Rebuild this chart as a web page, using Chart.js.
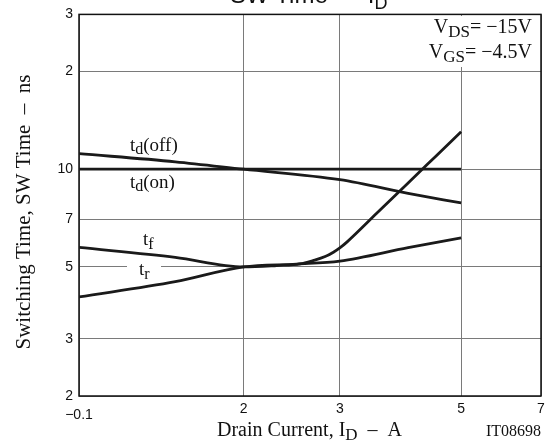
<!DOCTYPE html>
<html>
<head>
<meta charset="utf-8">
<title>SW Time - ID</title>
<script src="https://cdn.jsdelivr.net/npm/chart.js@4.4.0/dist/chart.umd.min.js"></script>
<style>
  html, body { margin: 0; padding: 0; background: #fff; }
  #wrap { width: 545px; height: 447px; position: relative; }
</style>
</head>
<body>
<div id="wrap"><canvas id="swChart"></canvas></div>

<script>
// axis ticks
var xTicks = [1, 2, 3, 5, 7];
var xTickLabels = ['\u22120.1', '2', '3', '5', '7'];
var yTicks = [2, 3, 5, 7, 10, 20, 30];
var yTickLabels = ['2', '3', '5', '7', '10', '2', '3'];

// curves (ID in A, time in ns)
var tdOffX = [1, 1.5, 2, 3, 4, 5];
var tdOffY = [11.17, 10.54, 10, 9.28, 8.43, 7.87];

var tdOnX = [1, 5];
var tdOnY = [10, 10];

var tfX = [1, 1.5, 2, 2.3, 2.54, 2.68, 2.82, 2.92, 3, 3.09, 3.5, 4, 4.5, 5];
var tfY = [5.74, 5.35, 5, 5.05, 5.11, 5.23, 5.38, 5.55, 5.72, 5.96, 7.3, 9.07, 10.99, 13.05];

var trX = [1, 1.5, 2, 2.5, 3, 4, 5];
var trY = [4.04, 4.5, 5, 5.1, 5.21, 5.73, 6.14];

var SERIF = '"Liberation Serif", "DejaVu Serif", serif';
var SANS = '"Liberation Sans", Arial, sans-serif';

function pts(xs, ys) {
  return xs.map(function (x, i) { return {x: x, y: ys[i]}; });
}

function curve(xs, ys) {
  return {
    data: pts(xs, ys),
    showLine: true,
    borderColor: '#1a1a1a',
    borderWidth: 2.8,
    pointRadius: 0,
    cubicInterpolationMode: 'monotone',
    fill: false
  };
}

// draws text made of pieces: [text, size, drop, family]
function drawParts(ctx, parts, x, y, align) {
  var total = 0;
  parts.forEach(function (p) {
    ctx.font = p[1] + 'px ' + (p[3] || SERIF);
    total += ctx.measureText(p[0]).width;
  });
  var cx = align === 'right' ? x - total : x;
  ctx.textAlign = 'left';
  ctx.textBaseline = 'alphabetic';
  parts.forEach(function (p) {
    ctx.font = p[1] + 'px ' + (p[3] || SERIF);
    ctx.fillText(p[0], cx, y + p[2]);
    cx += ctx.measureText(p[0]).width;
  });
}

var boxPlugin = {
  id: 'boxPlugin',
  beforeDatasetsDraw: function (chart) {
    var ctx = chart.ctx, a = chart.chartArea;
    ctx.save();
    // white patches behind labels that cut the grid
    ctx.fillStyle = '#fff';
    ctx.fillRect(127, 259, 34, 19);
    ctx.fillRect(424, 16, 113, 51);
    // frame
    ctx.strokeStyle = '#111';
    ctx.lineWidth = 1.5;
    ctx.strokeRect(a.left, a.top, a.right - a.left, a.bottom - a.top);
    ctx.restore();
  },
  afterDraw: function (chart) {
    var ctx = chart.ctx;
    var xs = chart.scales.x;
    ctx.save();
    ctx.fillStyle = '#111';

    // x tick labels
    ctx.font = '14px ' + SANS;
    ctx.textAlign = 'center';
    ctx.textBaseline = 'middle';
    xTicks.forEach(function (v, i) {
      var off = i === 0 ? 415 : 409;
      ctx.fillText(xTickLabels[i], xs.getPixelForValue(v), off);
    });

    // title, mostly cut off at the top
    drawParts(ctx, [['SW Time', 24, 0, SANS], ['  \u2013  ', 24, 0, SANS], ['I', 24, 0, SANS], ['D', 18, 6, SANS]], 230, 3);

    // axis titles
    drawParts(ctx, [['Drain Current, I', 20, 0], ['D', 17, 4], ['  \u2013  A', 20, 0]], 217, 436);
    ctx.font = '16px ' + SERIF;
    ctx.textAlign = 'right';
    ctx.fillText('IT08698', 541, 436);

    ctx.save();
    ctx.translate(30, 212);
    ctx.rotate(-Math.PI / 2);
    ctx.font = '21px ' + SERIF;
    ctx.textAlign = 'center';
    ctx.textBaseline = 'alphabetic';
    ctx.fillText('Switching Time, SW Time  \u2013  ns', 0, 0);
    ctx.restore();

    // conditions
    drawParts(ctx, [['V', 20, 0], ['DS', 17, 4], ['= \u221215V', 20, 0]], 532, 33, 'right');
    drawParts(ctx, [['V', 20, 0], ['GS', 17, 4], ['= \u22124.5V', 20, 0]], 532, 58, 'right');

    // curve labels
    drawParts(ctx, [['t', 19, 0], ['d', 16, 3], ['(off)', 19, 0]], 130, 151);
    drawParts(ctx, [['t', 19, 0], ['d', 16, 3], ['(on)', 19, 0]], 130, 188);
    drawParts(ctx, [['t', 19, 0], ['f', 16, 4]], 143, 245);
    drawParts(ctx, [['t', 19, 0], ['r', 16, 4]], 139, 275);

    ctx.restore();
  }
};

new Chart(document.getElementById('swChart'), {
  type: 'scatter',
  data: {
    datasets: [
      curve(tdOffX, tdOffY),
      curve(tdOnX, tdOnY),
      curve(tfX, tfY),
      curve(trX, trY)
    ]
  },
  options: {
    responsive: true,
    maintainAspectRatio: false,
    animation: false,
    devicePixelRatio: 1,
    layout: { padding: { top: 13, right: 4, left: 0, bottom: 0 } },
    plugins: {
      legend: { display: false },
      tooltip: { enabled: false },
      title: { display: false }
    },
    scales: {
      x: {
        type: 'logarithmic',
        min: 1,
        max: 7,
        afterBuildTicks: function (s) { s.ticks = xTicks.map(function (v) { return {value: v}; }); },
        afterFit: function (s) { s.height = 51; },
        ticks: { display: false },
        grid: { color: '#7a7a7a', lineWidth: 1, drawTicks: false },
        border: { display: false }
      },
      y: {
        type: 'logarithmic',
        min: 2,
        max: 30,
        afterBuildTicks: function (s) { s.ticks = yTicks.map(function (v) { return {value: v}; }); },
        afterFit: function (s) { s.width = 79; },
        ticks: {
          color: '#111',
          font: { family: SANS, size: 14 },
          padding: 6,
          autoSkip: false,
          callback: function (v) {
            var i = yTicks.indexOf(v);
            return i >= 0 ? yTickLabels[i] : '';
          }
        },
        grid: { color: '#7a7a7a', lineWidth: 1, drawTicks: false },
        border: { display: false }
      }
    }
  },
  plugins: [boxPlugin]
});
</script>
</body>
</html>
